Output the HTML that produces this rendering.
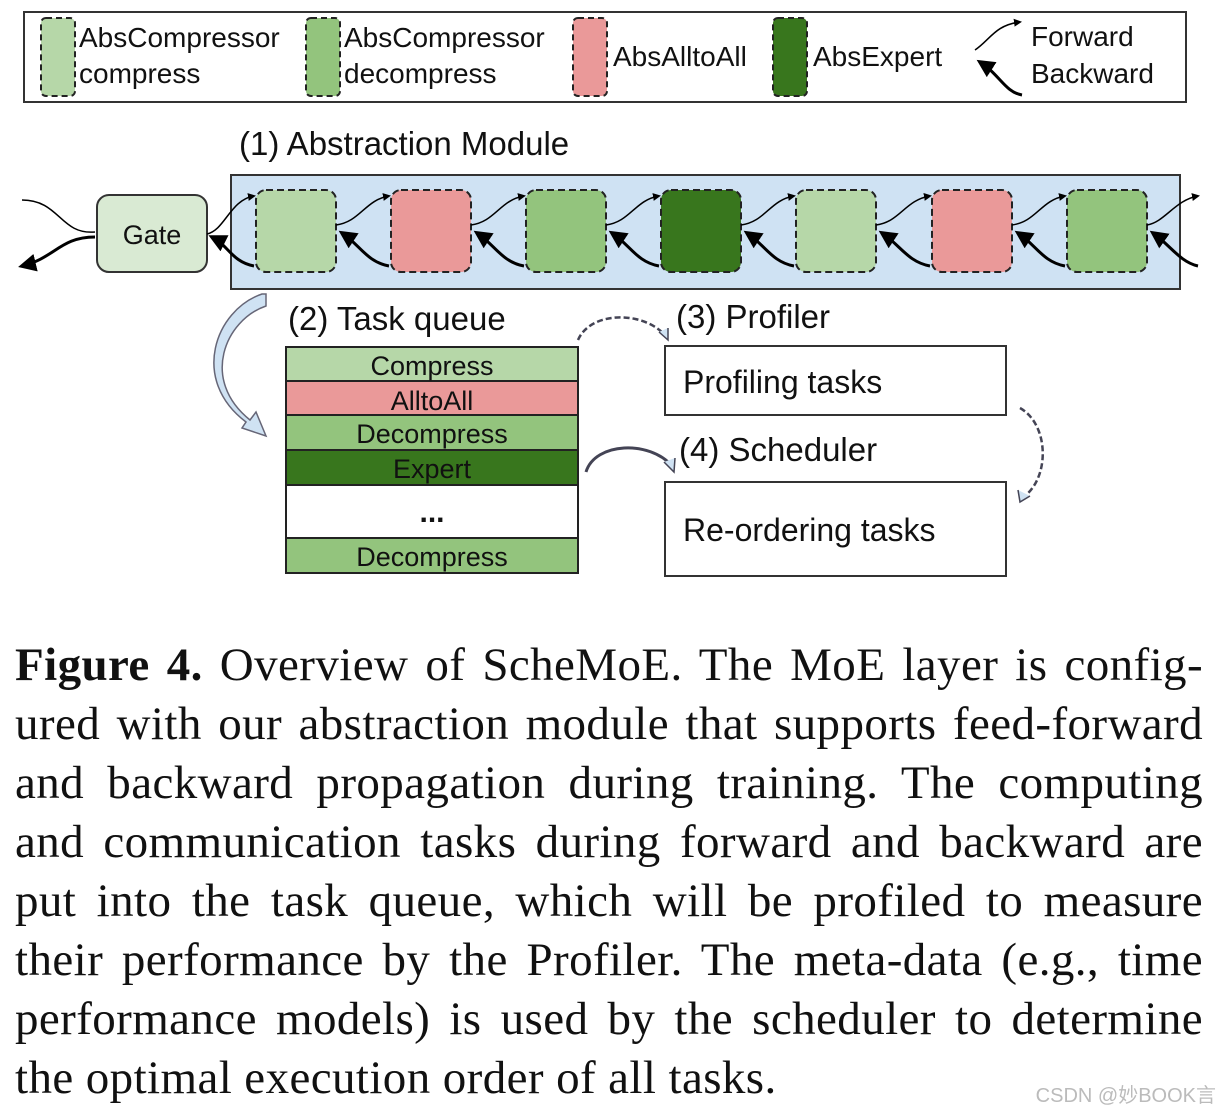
<!DOCTYPE html>
<html><head><meta charset="utf-8"><style>
body{margin:0;width:1222px;height:1114px;background:#fff;overflow:hidden;position:relative}
svg{position:absolute;left:0;top:0}
.cap{position:absolute;left:15px;top:636px;width:1188px;font-family:"Liberation Serif",serif;font-size:47px;line-height:59px;color:#111;letter-spacing:0.4px}
.cap div{text-align:justify;text-align-last:justify;white-space:nowrap;height:59px}
.cap div.l{text-align-last:left}
.wm{position:absolute;right:6px;bottom:6px;font-family:"Liberation Sans","Noto Sans CJK SC",sans-serif;font-size:20px;color:#bbb}
</style></head><body>
<svg width="1222" height="1114" font-family="Liberation Sans, sans-serif">
<defs>
<marker id="a" markerWidth="8" markerHeight="8" refX="6" refY="4" orient="auto" markerUnits="userSpaceOnUse"><path d="M0,0 L8,4 L0,8 z" fill="#000"/></marker>
<marker id="b" markerWidth="20" markerHeight="18" refX="14" refY="9" orient="auto" markerUnits="userSpaceOnUse"><path d="M0,0 L18,9 L0,18 z" fill="#000"/></marker>
</defs>
<rect x="24" y="12" width="1162" height="90" fill="#fff" stroke="#333" stroke-width="2"/>
<rect x="41" y="18" width="34" height="78" rx="5" fill="#b6d7a8" stroke="#222" stroke-width="2" stroke-dasharray="6,4"/>
<rect x="306" y="18" width="34" height="78" rx="5" fill="#93c47d" stroke="#222" stroke-width="2" stroke-dasharray="6,4"/>
<rect x="573" y="18" width="34" height="78" rx="5" fill="#ea9999" stroke="#222" stroke-width="2" stroke-dasharray="6,4"/>
<rect x="773" y="18" width="34" height="78" rx="5" fill="#38761d" stroke="#222" stroke-width="2" stroke-dasharray="6,4"/>
<g font-size="28" fill="#111">
<text x="79" y="47">AbsCompressor</text><text x="79" y="83">compress</text>
<text x="344" y="47">AbsCompressor</text><text x="344" y="83">decompress</text>
<text x="613" y="66">AbsAlltoAll</text>
<text x="813" y="66">AbsExpert</text>
<text x="1031" y="46">Forward</text><text x="1031" y="83">Backward</text>
</g>
<path d="M975,50 C990,40 995,25 1020,22" fill="none" stroke="#000" stroke-width="1.5" marker-end="url(#a)"/>
<path d="M1022,95 C1005,92 1000,75 980,62" fill="none" stroke="#000" stroke-width="3" marker-end="url(#b)"/>
<text x="239" y="155" font-size="33" fill="#111">(1) Abstraction Module</text>
<rect x="231" y="175" width="949" height="114" fill="#cfe2f3" stroke="#333" stroke-width="2"/>
<rect x="97" y="195" width="110" height="77" rx="12" fill="#d9ead3" stroke="#333" stroke-width="2"/>
<text x="152" y="244" font-size="27" text-anchor="middle" fill="#111">Gate</text>
<path d="M22,200 C60,200 60,235 95,232" fill="none" stroke="#000" stroke-width="1.5"/>
<path d="M95,237 C60,237 55,258 22,266" fill="none" stroke="#000" stroke-width="3" marker-end="url(#b)"/>
<g stroke="#222" stroke-width="2" stroke-dasharray="7,4">
<rect x="256" y="190" width="80" height="82" rx="10" fill="#b6d7a8"/>
<rect x="391" y="190" width="80" height="82" rx="10" fill="#ea9999"/>
<rect x="526" y="190" width="80" height="82" rx="10" fill="#93c47d"/>
<rect x="661" y="190" width="80" height="82" rx="10" fill="#38761d"/>
<rect x="796" y="190" width="80" height="82" rx="10" fill="#b6d7a8"/>
<rect x="932" y="190" width="80" height="82" rx="10" fill="#ea9999"/>
<rect x="1067" y="190" width="80" height="82" rx="10" fill="#93c47d"/>
</g>
<g fill="none" stroke="#000">
<path d="M207,234 C225,230 230,200 254,196" stroke-width="1.5" marker-end="url(#a)"/>
<path d="M254,266 C232,262 228,245 212,237" stroke-width="3" marker-end="url(#b)"/>
<path d="M336,225 C360,222 365,200 389,196" stroke-width="1.5" marker-end="url(#a)"/>
<path d="M389,266 C367,262 360,245 342,233" stroke-width="3" marker-end="url(#b)"/>
<path d="M471,225 C495,222 500,200 524,196" stroke-width="1.5" marker-end="url(#a)"/>
<path d="M524,266 C502,262 495,245 477,233" stroke-width="3" marker-end="url(#b)"/>
<path d="M606,225 C630,222 635,200 659,196" stroke-width="1.5" marker-end="url(#a)"/>
<path d="M659,266 C637,262 630,245 612,233" stroke-width="3" marker-end="url(#b)"/>
<path d="M741,225 C765,222 770,200 794,196" stroke-width="1.5" marker-end="url(#a)"/>
<path d="M794,266 C772,262 765,245 747,233" stroke-width="3" marker-end="url(#b)"/>
<path d="M876,225 C900,222 905,200 930,196" stroke-width="1.5" marker-end="url(#a)"/>
<path d="M930,266 C908,262 900,245 882,233" stroke-width="3" marker-end="url(#b)"/>
<path d="M1012,225 C1036,222 1041,200 1065,196" stroke-width="1.5" marker-end="url(#a)"/>
<path d="M1065,266 C1043,262 1036,245 1018,233" stroke-width="3" marker-end="url(#b)"/>
<path d="M1147,225 C1165,222 1175,200 1198,196" stroke-width="1.5" marker-end="url(#a)"/>
<path d="M1198,266 C1180,262 1170,245 1153,233" stroke-width="3" marker-end="url(#b)"/>
</g>
<path d="M266,294 L266,306 C225,320 200,380 250,420 L256,412 L266,436 L242,428 L246,422 C190,380 215,310 262,294 z" fill="#cfe2f3" stroke="#667" stroke-width="1.5"/>
<text x="288" y="330" font-size="33" fill="#111">(2) Task queue</text>
<text x="676" y="328" font-size="33" fill="#111">(3) Profiler</text>
<text x="679" y="461" font-size="33" fill="#111">(4) Scheduler</text>
<g stroke="#222" stroke-width="2">
<rect x="286" y="347" width="292" height="34" fill="#b6d7a8"/>
<rect x="286" y="381" width="292" height="34" fill="#ea9999"/>
<rect x="286" y="415" width="292" height="35" fill="#93c47d"/>
<rect x="286" y="450" width="292" height="35" fill="#38761d"/>
<rect x="286" y="485" width="292" height="53" fill="#fff"/>
<rect x="286" y="538" width="292" height="35" fill="#93c47d"/>
</g>
<g font-size="27" text-anchor="middle" fill="#111">
<text x="432" y="375">Compress</text><text x="432" y="410">AlltoAll</text>
<text x="432" y="443">Decompress</text><text x="432" y="478">Expert</text>
<text x="432" y="522" font-size="30" font-weight="bold">...</text>
<text x="432" y="566">Decompress</text>
</g>
<rect x="665" y="346" width="341" height="69" fill="#fff" stroke="#333" stroke-width="2"/>
<rect x="665" y="482" width="341" height="94" fill="#fff" stroke="#333" stroke-width="2"/>
<text x="683" y="393" font-size="32" fill="#111">Profiling tasks</text>
<text x="683" y="541" font-size="32" fill="#111">Re-ordering tasks</text>
<path d="M578,340 C590,312 640,310 664,334" fill="none" stroke="#445" stroke-width="2.5" stroke-dasharray="6,3"/>
<path d="M659,332 L668,340 L668,328" fill="#cfe2f3" stroke="#445" stroke-width="1.5"/>
<path d="M586,472 C595,442 650,440 672,466" fill="none" stroke="#445" stroke-width="3"/>
<path d="M664,462 L674,472 L675,458" fill="#cfe2f3" stroke="#445" stroke-width="1.5"/>
<path d="M1020,408 C1050,425 1050,480 1022,498" fill="none" stroke="#445" stroke-width="2.5" stroke-dasharray="6,3"/>
<path d="M1018,490 L1020,502 L1030,496" fill="#cfe2f3" stroke="#445" stroke-width="1.5"/>
</svg>
<div class="cap">
<div><b>Figure 4.</b> Overview of ScheMoE. The MoE layer is config-</div>
<div>ured with our abstraction module that supports feed-forward</div>
<div>and backward propagation during training. The computing</div>
<div>and communication tasks during forward and backward are</div>
<div>put into the task queue, which will be profiled to measure</div>
<div>their performance by the Profiler. The meta-data (e.g., time</div>
<div>performance models) is used by the scheduler to determine</div>
<div class="l">the optimal execution order of all tasks.</div>
</div>
<div class="wm">CSDN @妙BOOK言</div>
</body></html>
